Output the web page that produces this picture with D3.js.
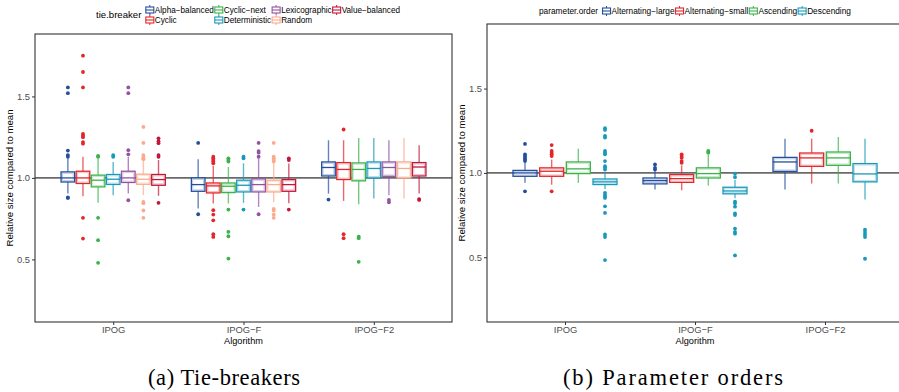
<!DOCTYPE html>
<html>
<head>
<meta charset="utf-8">
<script src="https://cdn.jsdelivr.net/npm/d3@7"></script>
<style>
  body { margin: 0; background: #fff; }
  svg { display: block; font-family: "Liberation Sans", Arial, sans-serif; }
</style>
</head>
<body>
<svg id="chart" width="899" height="392"></svg>
<script>
// categories
const algorithms = ["IPOG", "IPOG-F", "IPOG-F2"];
const tieBreakers = ["Alpha-balanced", "Cyclic", "Cyclic-next", "Deterministic", "Lexicographic", "Random", "Value-balanced"];
const tieColors = ["#234f9c", "#e3262a", "#3bb24a", "#1899b9", "#9353a3", "#fbaa8c", "#c3163c"];
const paramOrders = ["Alternating-large", "Alternating-small", "Ascending", "Descending"];
const paramColors = ["#234f9c", "#e3262a", "#3bb24a", "#1899b9"];
const yTicks = [0.5, 1.0, 1.5];

// box stats per series, per algorithm: [lower whisker, q1, median, q3, upper whisker]
const tieBoxes = [
  [[0.904, 0.975, 1.0, 1.037, 1.12], [0.812, 0.918, 0.959, 1.0, 1.115], [0.904, 1.012, 1.064, 1.098, 1.231]],
  [[0.888, 0.966, 1.0, 1.041, 1.13], [0.843, 0.908, 0.951, 0.969, 1.075], [0.859, 0.99, 1.052, 1.094, 1.231]],
  [[0.847, 0.945, 0.986, 1.017, 1.12], [0.843, 0.91, 0.949, 0.969, 1.067], [0.839, 0.982, 1.052, 1.092, 1.245]],
  [[0.894, 0.96, 0.992, 1.021, 1.098], [0.847, 0.914, 0.955, 0.986, 1.09], [0.873, 1.0, 1.058, 1.098, 1.245]],
  [[0.904, 0.972, 1.0, 1.041, 1.13], [0.822, 0.914, 0.959, 0.994, 1.12], [0.894, 1.01, 1.064, 1.098, 1.231]],
  [[0.894, 0.961, 0.992, 1.023, 1.108], [0.85, 0.914, 0.959, 0.986, 1.09], [0.873, 1.0, 1.058, 1.098, 1.245]],
  [[0.89, 0.955, 0.99, 1.021, 1.11], [0.845, 0.918, 0.959, 0.99, 1.088], [0.904, 1.012, 1.067, 1.094, 1.2]]
];
const tieOutliers = [
  [[1.555, 1.52, 1.168, 1.14, 1.13, 0.877, 0.88], [1.215, 0.777], [0.867]],
  [[1.75, 1.65, 1.555, 1.27, 1.26, 1.25, 1.22, 1.21, 0.755, 0.628], [1.09, 1.1, 1.11, 1.12, 1.13, 0.802, 0.775, 0.74, 0.655, 0.638], [1.297, 0.655, 0.63]],
  [[1.135, 1.13, 0.755, 0.618, 0.479], [1.1, 1.11, 1.12, 0.806, 0.669, 0.642, 0.505], [0.64, 0.63, 0.485]],
  [[1.14, 1.13], [1.12, 1.13, 0.806], []],
  [[1.555, 1.52, 1.17, 1.145, 0.863], [1.13, 1.155, 1.165, 1.215, 0.777], [0.865, 0.85]],
  [[1.313, 1.215, 1.14, 1.13, 1.12, 1.115, 0.853, 0.845, 0.8, 0.755], [1.1, 1.11, 1.12, 1.13, 1.215, 0.81, 0.8, 0.775, 0.755], []],
  [[1.243, 1.225, 1.213, 1.14, 1.13, 0.847], [1.11, 1.12, 0.806], [0.87, 0.865]]
];
const paramBoxes = [
  [[0.941, 0.98, 1.0, 1.015, 1.059], [0.901, 0.935, 0.954, 0.97, 1.01], [0.901, 1.009, 1.065, 1.092, 1.203]],
  [[0.93, 0.98, 1.01, 1.03, 1.079], [0.897, 0.944, 0.966, 0.99, 1.045], [0.937, 1.039, 1.089, 1.118, 1.203]],
  [[0.941, 0.996, 1.024, 1.065, 1.144], [0.925, 0.97, 0.996, 1.03, 1.11], [0.937, 1.045, 1.089, 1.124, 1.213]],
  [[0.905, 0.931, 0.947, 0.964, 1.0], [0.85, 0.876, 0.893, 0.915, 0.96], [0.842, 0.947, 0.994, 1.055, 1.203]]
];
const paramOutliers = [
  [[1.172, 1.11, 1.1, 1.09, 1.08, 1.07, 0.891], [1.02, 1.03, 1.05], []],
  [[1.165, 1.13, 1.12, 1.11, 1.1, 0.891], [1.06, 1.07, 1.09, 1.1, 1.11], [1.25]],
  [[], [1.12, 1.125, 1.13], []],
  [[1.265, 1.255, 1.22, 1.21, 1.13, 1.12, 1.11, 1.07, 1.04, 1.03, 1.02, 0.882, 0.87, 0.86, 0.852, 0.802, 0.763, 0.635, 0.62, 0.483],
   [0.995, 0.975, 0.83, 0.82, 0.8, 0.76, 0.75, 0.67, 0.65, 0.64, 0.511],
   [0.664, 0.65, 0.635, 0.62, 0.491]]
];

const svg = d3.select("#chart");

function drawPanel(opts) {
  const { left, right, top, bottom, series, colors, boxes, outliers, legendTitle, legendX, legendY, legendRows, legendFont, legendTitleFont, titleX, caption, captionX, captionW } = opts;
  const g = svg.append("g");

  const x = d3.scalePoint().domain(algorithms).range([left, right]).padding(0.6);
  const y = d3.scaleLinear().domain([0.116, 1.883]).range([bottom, top]);
  const dodge = d3.scaleBand().domain(series).range([-0.4 * x.step(), 0.4 * x.step()]).paddingInner(0.1);
  const bw = dodge.bandwidth();

  // reference line at 1
  g.append("line")
    .attr("x1", left).attr("x2", right)
    .attr("y1", y(1)).attr("y2", y(1))
    .attr("stroke", "#6a6a6a").attr("stroke-width", 1.6);

  series.forEach((s, si) => {
    const col = colors[si];
    algorithms.forEach((a, ai) => {
      const [lo, q1, med, q3, hi] = boxes[si][ai];
      const cx = x(a) + dodge(s) + bw / 2;
      const bx = x(a) + dodge(s);
      const sg = g.append("g");
      // whiskers
      sg.append("line").attr("x1", cx).attr("x2", cx).attr("y1", y(hi)).attr("y2", y(q3))
        .attr("stroke", col).attr("stroke-width", 1.4).attr("stroke-opacity", 0.7);
      sg.append("line").attr("x1", cx).attr("x2", cx).attr("y1", y(q1)).attr("y2", y(lo))
        .attr("stroke", col).attr("stroke-width", 1.4).attr("stroke-opacity", 0.7);
      // box
      sg.append("rect").attr("x", bx).attr("y", y(q3)).attr("width", bw).attr("height", y(q1) - y(q3))
        .attr("fill", "#fff").attr("stroke", col).attr("stroke-width", 1.3);
      sg.append("rect").attr("x", bx + 1.4).attr("y", y(q3) + 1.4).attr("width", bw - 2.8).attr("height", Math.max(0, y(q1) - y(q3) - 2.8))
        .attr("fill", "none").attr("stroke", col).attr("stroke-width", 1).attr("stroke-opacity", 0.3);
      sg.append("line").attr("x1", bx).attr("x2", bx + bw).attr("y1", y(med)).attr("y2", y(med))
        .attr("stroke", col).attr("stroke-width", 1.3);
      // outliers
      sg.selectAll("circle").data(outliers[si][ai]).join("circle")
        .attr("cx", cx).attr("cy", d => y(d)).attr("r", 1.9).attr("fill", col);
    });
  });

  // frame
  g.append("rect").attr("x", left).attr("y", top).attr("width", right - left).attr("height", bottom - top)
    .attr("fill", "none").attr("stroke", "#333").attr("stroke-width", 1.1);

  // axes
  const yAxis = g.append("g").attr("transform", `translate(${left},0)`)
    .call(d3.axisLeft(y).tickValues(yTicks).tickSize(3).tickPadding(2).tickFormat(d3.format(".1f")));
  const xAxis = g.append("g").attr("transform", `translate(0,${bottom})`)
    .call(d3.axisBottom(x).tickSize(3).tickPadding(1).tickFormat(d => d.replace("-", "\u2212")));
  [yAxis, xAxis].forEach(ax => {
    ax.select(".domain").remove();
    ax.selectAll(".tick line").attr("stroke", "#333");
    ax.selectAll(".tick text").attr("fill", "#4d4d4d").attr("font-size", 9.4).attr("font-family", "Liberation Sans, Arial, sans-serif");
  });

  g.append("text").attr("x", x("IPOG-F")).attr("y", bottom + 21.5)
    .attr("text-anchor", "middle").attr("font-size", 9.2).attr("fill", "#000").text("Algorithm");
  g.append("text").attr("transform", `translate(${titleX},${(top + bottom) / 2}) rotate(-90)`)
    .attr("text-anchor", "middle").attr("font-size", 9.6).attr("fill", "#000").text("Relative size compared to mean");

  // legend
  const lg = g.append("g");
  const title = lg.append("text").attr("x", legendX).attr("y", legendY + (legendRows === 2 ? 10 : 5) + 3.3)
    .attr("font-size", legendTitleFont).attr("fill", "#000").text(legendTitle);
  let cx = legendX + title.node().getComputedTextLength() + 4;
  const nCols = Math.ceil(series.length / legendRows);
  for (let c = 0; c < nCols; c++) {
    let maxW = 0;
    for (let r = 0; r < legendRows; r++) {
      const i = c * legendRows + r;
      if (i >= series.length) break;
      const ky = legendY + r * 10 + 5;
      const col = colors[i];
      // key glyph: mini boxplot
      lg.append("line").attr("x1", cx + 4.5).attr("x2", cx + 4.5).attr("y1", ky - 5).attr("y2", ky + 5)
        .attr("stroke", col).attr("stroke-width", 1);
      lg.append("rect").attr("x", cx + 0.5).attr("y", ky - 3).attr("width", 8).attr("height", 6)
        .attr("fill", "#fff").attr("stroke", col).attr("stroke-width", 1.1);
      lg.append("line").attr("x1", cx + 0.5).attr("x2", cx + 8.5).attr("y1", ky).attr("y2", ky)
        .attr("stroke", col).attr("stroke-width", 1.1);
      const t = lg.append("text").attr("x", cx + 9.5).attr("y", ky + 3)
        .attr("font-size", legendFont).attr("fill", "#000").text(series[i].replace("-", "\u2212"));
      maxW = Math.max(maxW, t.node().getComputedTextLength());
    }
    cx += 9.5 + maxW + 0.5;
  }

  // caption
  svg.append("text").attr("x", captionX).attr("y", 385)
    .attr("text-anchor", "middle").attr("font-family", "'Liberation Serif', serif")
    .attr("font-size", 22.5).attr("fill", "#000")
    .attr("textLength", captionW).attr("lengthAdjust", "spacing").text(caption);
}

drawPanel({
  left: 35, right: 452, top: 34, bottom: 322,
  series: tieBreakers, colors: tieColors, boxes: tieBoxes, outliers: tieOutliers,
  legendTitle: "tie.breaker", legendX: 96, legendY: 5, legendRows: 2, legendFont: 8.2, legendTitleFont: 9.6,
  titleX: 13, caption: "(a) Tie-breakers", captionX: 224, captionW: 152
});

drawPanel({
  left: 487, right: 903, top: 24, bottom: 322,
  series: paramOrders, colors: paramColors, boxes: paramBoxes, outliers: paramOutliers,
  legendTitle: "parameter.order", legendX: 539, legendY: 6, legendRows: 1, legendFont: 8.3, legendTitleFont: 8.3,
  titleX: 465, caption: "(b) Parameter orders", captionX: 673, captionW: 220
});
</script>
</body>
</html>
